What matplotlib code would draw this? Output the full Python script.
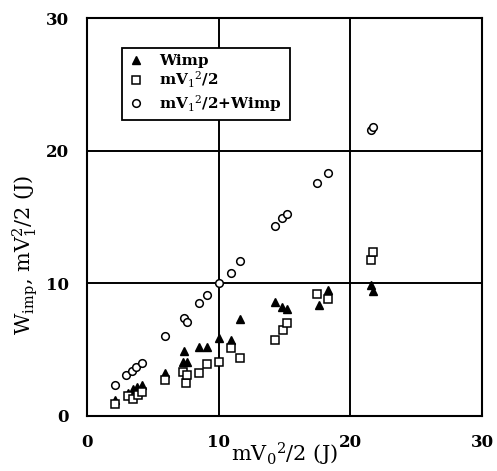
import matplotlib
matplotlib.use("Agg")
import matplotlib.pyplot as plt

plt.rcParams["font.family"] = ["DejaVu Serif"]
plt.rcParams["mathtext.fontset"] = "dejavuserif"

# Wimp (filled triangles)
wimp_x = [2.1, 3.1, 3.5, 3.8, 4.2, 5.9, 7.3, 7.4, 7.6, 8.5, 9.1, 10.0, 10.9, 11.6,
          14.3, 14.8, 15.2, 17.6, 18.3, 21.6, 21.7]
wimp_y = [1.2, 1.7, 2.0, 2.2, 2.3, 3.2, 4.1, 4.9, 4.1, 5.2, 5.2, 5.9, 5.7, 7.3,
          8.6, 8.2, 8.1, 8.4, 9.5, 9.9, 9.4]

# mV1^2/2 (open squares)
mv1_x = [2.1, 3.1, 3.5, 3.9, 4.2, 5.9, 7.3, 7.5, 7.6, 8.5, 9.1, 10.0, 10.9, 11.6,
         14.3, 14.9, 15.2, 17.5, 18.3, 21.6, 21.7]
mv1_y = [0.9, 1.5, 1.3, 1.6, 1.8, 2.7, 3.3, 2.5, 3.1, 3.2, 3.9, 4.1, 5.1, 4.4,
         5.7, 6.5, 7.0, 9.2, 8.8, 11.8, 12.4]

# mV1^2/2 + Wimp (open circles)
sum_x = [2.1, 3.0, 3.4, 3.7, 4.2, 5.9, 7.4, 7.6, 8.5, 9.1, 10.0, 10.9, 11.6,
         14.3, 14.8, 15.2, 17.5, 18.3, 21.6, 21.7]
sum_y = [2.3, 3.1, 3.4, 3.7, 4.0, 6.0, 7.4, 7.1, 8.5, 9.1, 10.0, 10.8, 11.7,
         14.3, 14.9, 15.2, 17.6, 18.3, 21.6, 21.8]

ticks = [0, 10, 20, 30]

fig = plt.figure(figsize=(4.97, 4.71), dpi=100)
ax = fig.add_axes([0.175, 0.117, 0.795, 0.844])

for v in [10, 20]:
    ax.axvline(v, color="black", lw=1.4, zorder=1)
    ax.axhline(v, color="black", lw=1.4, zorder=1)

ax.plot(wimp_x, wimp_y, "^", color="black", ms=5.5, ls="none", label="Wimp", zorder=3)
ax.plot(mv1_x, mv1_y, "s", mfc="white", mec="black", mew=1.1, ms=5.5, ls="none",
        label=r"mV$_1$$^2$/2", zorder=3)
ax.plot(sum_x, sum_y, "o", mfc="white", mec="black", mew=1.1, ms=5.5, ls="none",
        label=r"mV$_1$$^2$/2+Wimp", zorder=3)

ax.set_xlim(0, 30)
ax.set_ylim(0, 30)
ax.set_xticks(ticks)
ax.set_yticks(ticks)
ax.tick_params(length=0, labelsize=12, pad=13)
for lab in ax.get_xticklabels() + ax.get_yticklabels():
    lab.set_fontweight("bold")
for s in ax.spines.values():
    s.set_linewidth(1.5)

ax.set_xlabel(r"mV$_0{}^2$/2 (J)", fontsize=15, labelpad=-7)
ax.set_ylabel(r"W$_{\rm imp}$, mV$_1^2$/2 (J)", fontsize=15)
ax.yaxis.set_label_coords(-0.12, 0.405)

# legend box: left edge ~x=2.7, top ~y=27.8, about 168 px wide
leg = ax.legend(loc="upper left", bbox_to_anchor=(0.089, 0.726, 0.425, 0.2),
                mode="expand", borderaxespad=0,
                fancybox=False, edgecolor="black", framealpha=1,
                prop={"weight": "bold", "size": 11}, labelspacing=0.15,
                handletextpad=1.0, borderpad=0.4, handlelength=1.0)
leg.get_frame().set_linewidth(1.3)
leg.set_zorder(5)

fig.savefig("out.png", dpi=100)
